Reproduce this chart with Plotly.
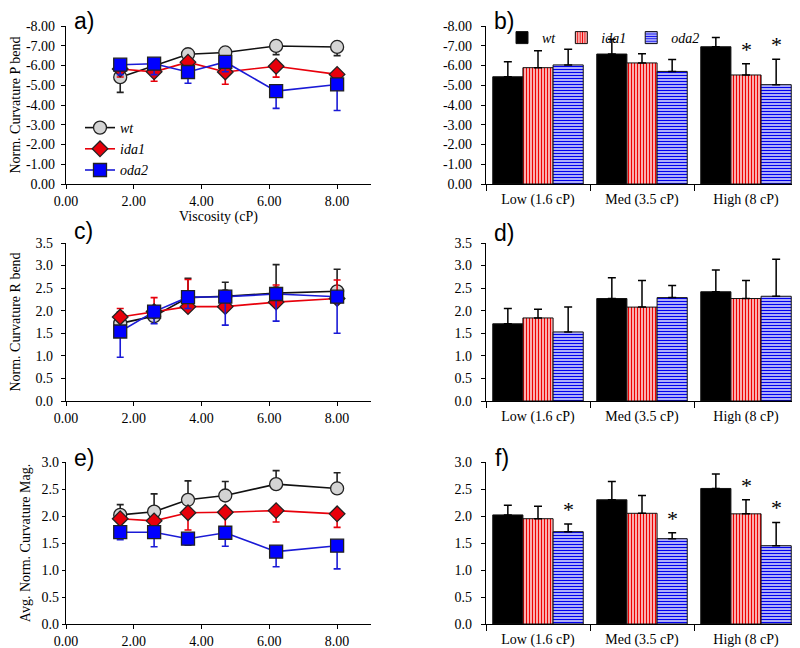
import plotly.graph_objects as go
from plotly.subplots import make_subplots

# ---------------- data ----------------
visc = [1.6, 2.6, 3.6, 4.7, 6.2, 8.0]
groups = ["Low (1.6 cP)", "Med (3.5 cP)", "High (8 cP)"]

# a) Norm. Curvature P bend (line)
a_wt = [-5.41, -6.01, -6.57, -6.66, -6.99, -6.94]
a_wt_err = [0.77, 0.20, 0.25, 0.30, 0.44, 0.44]
a_ida = [-5.82, -5.68, -6.17, -5.67, -5.96, -5.55]
a_ida_err = [0.40, 0.48, 0.50, 0.62, 0.55, 0.40]
a_oda = [-6.04, -6.09, -5.67, -6.18, -4.70, -5.04]
a_oda_err = [0.50, 0.55, 0.57, 0.50, 0.87, 1.32]

# b) bars P bend
b_wt = [-5.43, -6.58, -6.95]
b_wt_err = [0.76, 0.75, 0.47]
b_ida = [-5.89, -6.13, -5.52]
b_ida_err = [0.86, 0.47, 0.57]
b_oda = [-6.03, -5.70, -5.03]
b_oda_err = [0.79, 0.60, 1.29]
b_sig_ida = [False, False, True]
b_sig_oda = [False, False, True]

# c) Norm. Curvature R bend (line)
c_wt = [1.72, 1.88, 2.29, 2.32, 2.39, 2.43]
c_wt_err = [0.25, 0.15, 0.43, 0.31, 0.63, 0.49]
c_ida = [1.86, 1.98, 2.09, 2.09, 2.19, 2.27]
c_ida_err = [0.19, 0.31, 0.60, 0.35, 0.38, 0.41]
c_oda = [1.54, 1.98, 2.30, 2.31, 2.37, 2.31]
c_oda_err = [0.57, 0.27, 0.25, 0.63, 0.60, 0.81]

# d) bars R bend
d_wt = [1.71, 2.27, 2.42]
d_wt_err = [0.34, 0.46, 0.48]
d_ida = [1.84, 2.08, 2.27]
d_ida_err = [0.19, 0.59, 0.40]
d_oda = [1.53, 2.29, 2.32]
d_oda_err = [0.55, 0.27, 0.82]

# e) Avg. Norm. Curvature Mag. (line)
e_wt = [2.02, 2.08, 2.30, 2.38, 2.59, 2.51]
e_wt_err = [0.19, 0.33, 0.35, 0.26, 0.25, 0.29]
e_ida = [1.95, 1.91, 2.06, 2.07, 2.10, 2.04]
e_ida_err = [0.20, 0.20, 0.32, 0.27, 0.21, 0.25]
e_oda = [1.70, 1.70, 1.58, 1.69, 1.34, 1.45]
e_oda_err = [0.14, 0.27, 0.12, 0.25, 0.28, 0.43]

# f) bars Mag.
f_wt = [2.02, 2.30, 2.51]
f_wt_err = [0.18, 0.34, 0.27]
f_ida = [1.95, 2.05, 2.04]
f_ida_err = [0.23, 0.33, 0.26]
f_oda = [1.71, 1.58, 1.45]
f_oda_err = [0.14, 0.11, 0.43]
f_sig_ida = [False, False, True]
f_sig_oda = [True, True, True]

# tick labels
visc_tickvals = [0, 2, 4, 6, 8]
visc_ticktext = ["0.00", "2.00", "4.00", "6.00", "8.00"]
p_tickvals = [0, -1, -2, -3, -4, -5, -6, -7, -8]
p_ticktext = ["0.00", "-1.00", "-2.00", "-3.00", "-4.00", "-5.00", "-6.00", "-7.00", "-8.00"]
r_tickvals = [0, 0.5, 1.0, 1.5, 2.0, 2.5, 3.0, 3.5]
r_ticktext = ["0.0", "0.5", "1.0", "1.5", "2.0", "2.5", "3.0", "3.5"]
m_tickvals = [0, 0.5, 1.0, 1.5, 2.0, 2.5, 3.0]
m_ticktext = ["0.0", "0.5", "1.0", "1.5", "2.0", "2.5", "3.0"]

# ---------------- style ----------------
W, H = 800, 648
OFF = 8  # page body margin offset


def PX(px):
    return (px - OFF) / W


def PY(py):
    return 1 - (py - OFF) / H


SERIF = "Liberation Serif"
SANS = "Liberation Sans"
GREY = "#d4d4d4"
RED = "#e8000b"
BLUE = "#0000ff"
BLUE_LINE = "#1a1ad6"
BARGAP = 0.13

fig = make_subplots(rows=3, cols=2)


def line_trace(x, y, err, direction, name, color, lcolor, fill, symbol, size, row, show):
    ed = dict(type="data", symmetric=False, color=color, thickness=1.6, width=3.5)
    zeros = [0] * len(err)
    if direction == "plus":
        ed["array"] = err
        ed["arrayminus"] = zeros
    else:
        ed["array"] = zeros
        ed["arrayminus"] = err
    fig.add_trace(go.Scatter(
        x=x, y=y, name=name, mode="lines+markers",
        line=dict(color=lcolor, width=1.6),
        marker=dict(symbol=symbol, size=size, color=fill, line=dict(color="#222222", width=1.3)),
        error_y=ed, showlegend=show, legend="legend"), row=row, col=1)


def bar_trace(y, err, direction, name, color, pattern, row, show):
    ed = dict(type="data", symmetric=False, color="black", thickness=1.5, width=4)
    zeros = [0] * len(err)
    if direction == "plus":
        ed["array"] = err
        ed["arrayminus"] = zeros
    else:
        ed["array"] = zeros
        ed["arrayminus"] = err
    marker = dict(color=color, line=dict(color="#111111", width=1))
    if pattern is not None:
        marker["pattern"] = pattern
    fig.add_trace(go.Bar(x=groups, y=y, name=name, marker=marker, error_y=ed,
                         showlegend=show, legend="legend2"), row=row, col=2)


# a)
line_trace(visc, a_wt, a_wt_err, "plus", "<i>wt</i>", "#222222", "#111111", GREY, "circle", 13, 1, True)
line_trace(visc, a_ida, a_ida_err, "plus", "<i>ida1</i>", RED, RED, RED, "diamond", 12, 1, True)
line_trace(visc, a_oda, a_oda_err, "plus", "<i>oda2</i>", BLUE_LINE, BLUE_LINE, BLUE, "square", 13, 1, True)
# c)
line_trace(visc, c_wt, c_wt_err, "plus", "wt", "#222222", "#111111", GREY, "circle", 13, 2, False)
line_trace(visc, c_ida, c_ida_err, "plus", "ida1", RED, RED, RED, "diamond", 12, 2, False)
line_trace(visc, c_oda, c_oda_err, "minus", "oda2", BLUE_LINE, BLUE_LINE, BLUE, "square", 13, 2, False)
# e)
line_trace(visc, e_wt, e_wt_err, "plus", "wt", "#222222", "#111111", GREY, "circle", 13, 3, False)
line_trace(visc, e_ida, e_ida_err, "minus", "ida1", RED, RED, RED, "diamond", 12, 3, False)
line_trace(visc, e_oda, e_oda_err, "minus", "oda2", BLUE_LINE, BLUE_LINE, BLUE, "square", 13, 3, False)

pat_ida = dict(shape="|", fgcolor="#ee0000", bgcolor="white", size=3, solidity=0.55,
               fillmode="replace", fgopacity=1)
pat_oda = dict(shape="-", fgcolor="#0000ee", bgcolor="white", size=3, solidity=0.55,
               fillmode="replace", fgopacity=1)

bar_trace(b_wt, b_wt_err, "minus", "<i>wt</i>", "black", None, 1, True)
bar_trace(b_ida, b_ida_err, "minus", "<i>ida1</i>", "white", pat_ida, 1, True)
bar_trace(b_oda, b_oda_err, "minus", "<i>oda2</i>", "white", pat_oda, 1, True)
bar_trace(d_wt, d_wt_err, "plus", "wt", "black", None, 2, False)
bar_trace(d_ida, d_ida_err, "plus", "ida1", "white", pat_ida, 2, False)
bar_trace(d_oda, d_oda_err, "plus", "oda2", "white", pat_oda, 2, False)
bar_trace(f_wt, f_wt_err, "plus", "wt", "black", None, 3, False)
bar_trace(f_ida, f_ida_err, "plus", "ida1", "white", pat_ida, 3, False)
bar_trace(f_oda, f_oda_err, "plus", "oda2", "white", pat_oda, 3, False)

# ---------------- axes ----------------
col_x = {1: [PX(66), PX(371)], 2: [PX(486), PX(798)]}
row_y = {1: [PY(184), PY(26)], 2: [PY(401), PY(243)], 3: [PY(624), PY(462)]}

axis_common = dict(showline=True, linecolor="black", linewidth=1.3, showgrid=False, zeroline=False,
                   ticks="outside", tickwidth=1.2, tickcolor="black", automargin=False,
                   tickfont=dict(family=SERIF, size=14, color="black"))

for r in (1, 2, 3):
    fig.update_xaxes(row=r, col=1, domain=col_x[1], range=[0, 9], tickvals=visc_tickvals,
                     ticktext=visc_ticktext, ticklen=4, **axis_common)
    fig.update_xaxes(row=r, col=2, domain=col_x[2], tickson="boundaries", ticklen=6,
                     ticklabelstandoff=2, **axis_common)
    for c in (1, 2):
        fig.update_yaxes(row=r, col=c, domain=row_y[r], ticklen=4, **axis_common)

fig.update_xaxes(row=1, col=1, title=dict(text="Viscosity (cP)", font=dict(family=SERIF, size=14, color="black"), standoff=0))

for c in (1, 2):
    fig.update_yaxes(row=1, col=c, range=[0, -8], tickvals=p_tickvals, ticktext=p_ticktext)
    fig.update_yaxes(row=2, col=c, range=[0, 3.5], tickvals=r_tickvals, ticktext=r_ticktext)
    fig.update_yaxes(row=3, col=c, range=[0, 3.0], tickvals=m_tickvals, ticktext=m_ticktext)

fig.update_yaxes(row=1, col=1, ticklabelstandoff=3,
                 title=dict(text="Norm. Curvature P bend", font=dict(family=SERIF, size=14, color="black"), standoff=22))
fig.update_yaxes(row=2, col=1, ticklabelstandoff=5,
                 title=dict(text="Norm. Curvature R bend", font=dict(family=SERIF, size=14, color="black"), standoff=20))
fig.update_yaxes(row=3, col=1, ticklabelstandoff=0, ticklen=3,
                 title=dict(text="Avg. Norm. Curvature Mag.", font=dict(family=SERIF, size=14, color="black"), standoff=7))
fig.update_yaxes(row=1, col=2, ticklabelstandoff=6)
fig.update_yaxes(row=2, col=2, ticklabelstandoff=6)
fig.update_yaxes(row=3, col=2, ticklabelstandoff=6)

# ---------------- significance asterisks ----------------
annotations = []
bw = (1 - BARGAP) / 3


def add_stars(xref, yref, vals, errs, sig, k):
    for i, (v, e, s) in enumerate(zip(vals, errs, sig)):
        if s:
            annotations.append(dict(x=i + (k - 1) * bw, y=v + e if v > 0 else v - e, xref=xref, yref=yref,
                                    text="*", showarrow=False, yanchor="bottom", yshift=0,
                                    font=dict(family=SERIF, size=22, color="black")))


add_stars("x2", "y2", b_ida, b_ida_err, b_sig_ida, 1)
add_stars("x2", "y2", b_oda, b_oda_err, b_sig_oda, 2)
add_stars("x6", "y6", f_ida, f_ida_err, f_sig_ida, 1)
add_stars("x6", "y6", f_oda, f_oda_err, f_sig_oda, 2)

# panel labels
for lab, px, py in [("a)", 84, 21), ("b)", 504, 21), ("c)", 83, 231), ("d)", 504, 233), ("e)", 84, 458), ("f)", 502, 458)]:
    annotations.append(dict(x=PX(px), y=PY(py), xref="paper", yref="paper", text=lab, showarrow=False,
                            xanchor="center", yanchor="middle", font=dict(family=SANS, size=23, color="black")))

fig.update_layout(
    width=W, height=H, margin=dict(l=0, r=0, t=0, b=0),
    paper_bgcolor="white", plot_bgcolor="white",
    barmode="group", bargap=BARGAP, bargroupgap=0,
    annotations=annotations,
    legend=dict(x=PX(80), y=PY(112), xanchor="left", yanchor="top", bgcolor="rgba(0,0,0,0)",
                font=dict(family=SERIF, size=14, color="black"), itemwidth=30, tracegroupgap=0),
    legend2=dict(x=PX(502), y=PY(22), xanchor="left", yanchor="top", orientation="h",
                 bgcolor="rgba(0,0,0,0)", font=dict(family=SERIF, size=14, color="black"),
                 itemwidth=30),
)

fig.write_html("out.html")
